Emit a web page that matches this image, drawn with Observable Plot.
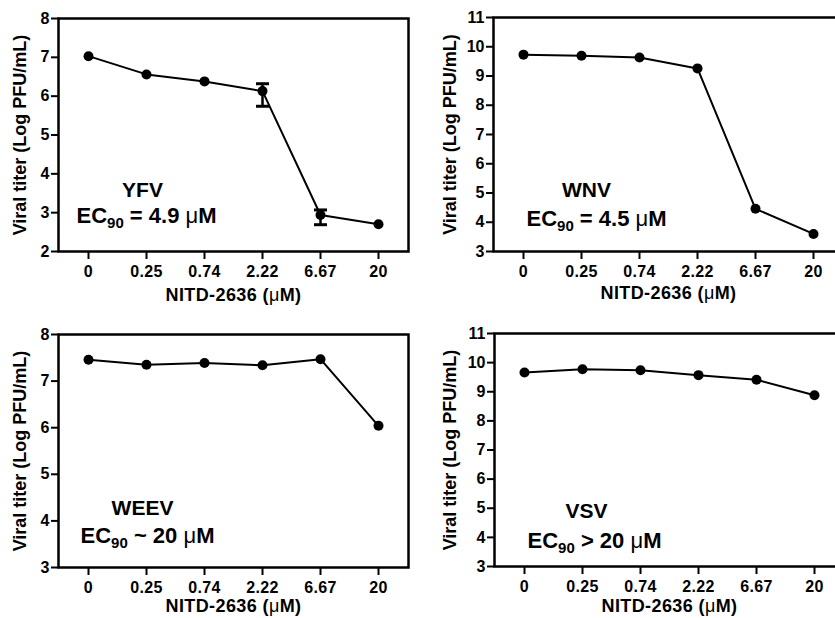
<!DOCTYPE html>
<html>
<head>
<meta charset="utf-8">
<script src="https://cdn.jsdelivr.net/npm/d3@7"></script>
<script src="https://cdn.jsdelivr.net/npm/@observablehq/plot@0.6"></script>
<style>
  html, body { margin: 0; padding: 0; background: white; }
  #wrap { position: relative; width: 835px; height: 618px; overflow: hidden; background: white; }
  .panel { position: absolute; width: 420px; }
  .panel svg { max-width: none !important; }
</style>
</head>
<body>
<div id="wrap"></div>
<script>
// ---- data ----
const doses = ["0", "0.25", "0.74", "2.22", "6.67", "20"];

const yfv     = [7.03, 6.56, 6.38, 6.13, 2.94, 2.70];
const yfvLow  = [null, null, null, 5.74, 2.69, null];
const yfvHigh = [null, null, null, 6.32, 3.07, null];
const wnv     = [9.73, 9.69, 9.63, 9.26, 4.46, 3.60];
const weev    = [7.46, 7.35, 7.39, 7.34, 7.47, 6.04];
const vsv     = [9.66, 9.77, 9.74, 9.57, 9.41, 8.88];

const yfvTicks  = [2, 3, 4, 5, 6, 7, 8];
const wnvTicks  = [3, 4, 5, 6, 7, 8, 9, 10, 11];
const weevTicks = [3, 4, 5, 6, 7, 8];
const vsvTicks  = [3, 4, 5, 6, 7, 8, 9, 10, 11];

const virusNames = ["YFV", "WNV", "WEEV", "VSV"];
const ecLabels   = ["EC90 = 4.9 μM", "EC90 = 4.5 μM", "EC90 ~ 20 μM", "EC90 > 20 μM"];
const xTitle = "NITD-2636 (μM)";
const yTitle = "Viral titer (Log PFU/mL)";

// ---- layout ----
const panels = [
  {left: 0,   top: 0,   height: 310, mt: 18, mb: 59, values: yfv,  lo: yfvLow, hi: yfvHigh, ticks: yfvTicks,
   name: virusNames[0], ec: ecLabels[0], namePos: [84, 172], ecPos: [88, 197], xLabDy: 44, yLabDx: -38},
  {left: 435, top: 0,   height: 310, mt: 17, mb: 59, values: wnv,  ticks: wnvTicks,
   name: virusNames[1], ec: ecLabels[1], namePos: [93, 173], ecPos: [103, 201], xLabDy: 42, yLabDx: -43},
  {left: 0,   top: 316, height: 302, mt: 18, mb: 51, values: weev, ticks: weevTicks,
   name: virusNames[2], ec: ecLabels[2], namePos: [84, 174], ecPos: [89, 201], xLabDy: 39, yLabDx: -38},
  {left: 436, top: 316, height: 302, mt: 17, mb: 52, values: vsv,  ticks: vsvTicks,
   name: virusNames[3], ec: ecLabels[3], namePos: [92, 178], ecPos: [100, 207], xLabDy: 40, yLabDx: -44}
];

const capSymbol = { draw(ctx) { ctx.moveTo(-6.5, 0); ctx.lineTo(6.5, 0); } };
const xTickSymbol = { draw(ctx) { ctx.moveTo(0, 0); ctx.lineTo(0, 7.5); } };
const yTickSymbol = { draw(ctx) { ctx.moveTo(0, 0); ctx.lineTo(-7.5, 0); } };

function richText(svg) {
  d3.select(svg).selectAll("text").each(function () {
    const t = this.textContent;
    const sel = d3.select(this);
    if (this.querySelector("tspan")) return;
    if (doses.includes(t)) sel.style("letter-spacing", "0.4px");
    if (t.startsWith("EC90")) {
      const rest = t.slice(4);
      const [a, b] = rest.split("μ");
      sel.text(null);
      sel.append("tspan").text("EC");
      sel.append("tspan").attr("font-size", 15).attr("dy", 5).text("90");
      sel.append("tspan").attr("dy", -5).text(a);
      sel.append("tspan").attr("font-weight", "normal").text("μ");
      sel.append("tspan").text(b);
    } else if (t.includes("μ")) {
      const [a, b] = t.split("μ");
      sel.text(null).style("letter-spacing", "0.4px");
      sel.append("tspan").text(a);
      sel.append("tspan").attr("font-weight", "normal").text("μ");
      sel.append("tspan").text(b);
    }
  });
}

const font = "'Liberation Sans', Arial, sans-serif";
const wrap = document.getElementById("wrap");
for (const p of panels) {
  const rows = doses.map((d, i) => ({dose: d, v: p.values[i], lo: p.lo ? p.lo[i] : null, hi: p.hi ? p.hi[i] : null}));
  const err = rows.filter(r => r.lo != null);
  const ticks = p.ticks;
  const svg = Plot.plot({
    width: 420,
    height: p.height,
    marginLeft: 58,
    marginRight: 12,
    marginTop: p.mt,
    marginBottom: p.mb,
    style: {fontFamily: font, fontSize: "16px", fontWeight: "bold", color: "black", background: "white", overflow: "visible"},
    x: {type: "point", domain: doses, padding: 0.5, axis: null},
    y: {domain: [ticks[0], ticks[ticks.length - 1]], axis: null},
    marks: [
      // axes drawn from the scales
      Plot.dot(doses, {x: d => d, frameAnchor: "bottom", symbol: xTickSymbol, stroke: "black", strokeWidth: 2, fill: "none"}),
      Plot.text(doses, {x: d => d, frameAnchor: "bottom", dy: 20.5, text: d => d, fontSize: 16, fontWeight: "bold",
        fontFamily: font, textAnchor: "middle", lineAnchor: "middle", fill: "black"}),
      Plot.dot(ticks, {y: d => d, frameAnchor: "left", symbol: yTickSymbol, stroke: "black", strokeWidth: 2, fill: "none"}),
      Plot.text(ticks, {y: d => d, frameAnchor: "left", dx: -9, text: d => String(d), fontSize: 16, fontWeight: "bold",
        fontFamily: font, textAnchor: "end", lineAnchor: "middle", fill: "black"}),
      // data
      Plot.ruleX(err, {x: "dose", y1: "lo", y2: "hi", stroke: "black", strokeWidth: 2.5}),
      Plot.dot(err, {x: "dose", y: "lo", symbol: capSymbol, stroke: "black", strokeWidth: 3, fill: "none"}),
      Plot.dot(err, {x: "dose", y: "hi", symbol: capSymbol, stroke: "black", strokeWidth: 3, fill: "none"}),
      Plot.line(rows, {x: "dose", y: "v", stroke: "black", strokeWidth: 2}),
      Plot.dot(rows, {x: "dose", y: "v", r: 5, fill: "black", stroke: "none"}),
      Plot.frame({stroke: "black", strokeWidth: 2.5}),
      // annotations and titles
      Plot.text([p.name], {frameAnchor: "top-left", dx: p.namePos[0], dy: p.namePos[1], text: d => d,
        fontSize: 21, fontWeight: "bold", fontFamily: font, textAnchor: "middle", lineAnchor: "middle", fill: "black"}),
      Plot.text([p.ec], {frameAnchor: "top-left", dx: p.ecPos[0], dy: p.ecPos[1], text: d => d,
        fontSize: 22, fontWeight: "bold", fontFamily: font, textAnchor: "middle", lineAnchor: "middle", fill: "black"}),
      Plot.text([xTitle], {frameAnchor: "bottom", dy: p.xLabDy, text: d => d,
        fontSize: 18, fontWeight: "bold", fontFamily: font, textAnchor: "middle", lineAnchor: "middle", fill: "black"}),
      Plot.text([yTitle], {frameAnchor: "left", dx: p.yLabDx, rotate: -90, text: d => d,
        fontSize: 18, fontWeight: "bold", fontFamily: font, textAnchor: "middle", lineAnchor: "middle", fill: "black"})
    ]
  });
  richText(svg);
  const div = document.createElement("div");
  div.className = "panel";
  div.style.left = p.left + "px";
  div.style.top = p.top + "px";
  div.appendChild(svg);
  wrap.appendChild(div);
}
</script>
</body>
</html>
